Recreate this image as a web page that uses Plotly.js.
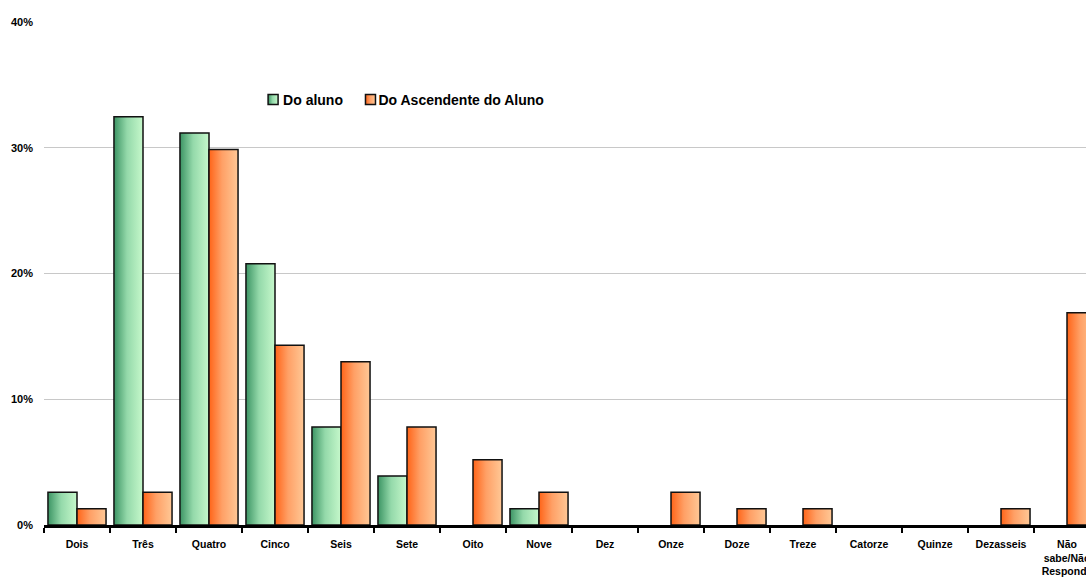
<!DOCTYPE html>
<html>
<head>
<meta charset="utf-8">
<script src="https://cdn.plot.ly/plotly-3.0.1.min.js"></script>
<style>
  html, body { margin: 0; padding: 0; overflow: hidden; background: #fff; }
  #chart { width: 1120px; height: 581px; }
</style>
</head>
<body>
<div id="chart"></div>
<script>
// Number of siblings (percent of respondents)
const categories = ["Dois", "Três", "Quatro", "Cinco", "Seis", "Sete", "Oito", "Nove", "Dez",
  "Onze", "Doze", "Treze", "Catorze", "Quinze", "Dezasseis", "Não<br>sabe/Não<br>Responde"];
const doAluno = [2.60, 32.47, 31.17, 20.78, 7.79, 3.90, 0, 1.30, 0, 0, 0, 0, 0, 0, 0, 0];
const doAscendente = [1.30, 2.60, 29.87, 14.29, 12.99, 7.79, 5.19, 2.60, 0, 2.60, 1.30, 1.30, 0, 0, 1.30, 16.88];
const seriesNames = ["Do aluno", "Do Ascendente do Aluno"];
const yTicks = [0, 10, 20, 30, 40];
const yTickText = ["0%", "10%", "20%", "30%", "40%"];

const FONT = "Liberation Sans, Arial, sans-serif";

// empty categories get no outline
const outline = vals => vals.map(v => (v > 0 ? 1.5 : 0));

const traces = [
  {
    type: "bar", name: seriesNames[0], x: categories, y: doAluno,
    marker: { color: "#8fd6a6", line: { color: "#111", width: outline(doAluno) } },
    hoverinfo: "skip"
  },
  {
    type: "bar", name: seriesNames[1], x: categories, y: doAscendente,
    marker: { color: "#ff9a5a", line: { color: "#111", width: outline(doAscendente) } },
    hoverinfo: "skip"
  }
];

const layout = {
  width: 1120, height: 581,
  margin: { l: 44, r: 20, t: 22, b: 56 },
  paper_bgcolor: "#fff", plot_bgcolor: "#fff",
  barmode: "group", bargap: 0.12, bargroupgap: 0,
  font: { family: FONT, color: "#000" },
  xaxis: {
    type: "category",
    showline: true, linecolor: "#000", linewidth: 2.5,
    ticks: "outside", tickson: "boundaries", ticklen: 5, tickwidth: 2, tickcolor: "#000",
    ticklabelstandoff: 8,
    tickfont: { family: FONT, size: 10.5, weight: "bold" },
    showgrid: false, zeroline: false, fixedrange: true
  },
  yaxis: {
    range: [0, 40], tickvals: yTicks, ticktext: yTickText,
    showgrid: true, gridcolor: "#c8c8c8", gridwidth: 1,
    showline: false, zeroline: false, ticks: "", ticklabelstandoff: 10,
    tickfont: { family: FONT, size: 11, weight: "bold" }, fixedrange: true
  },
  showlegend: true,
  legend: {
    orientation: "h", x: 0.198, xanchor: "left", y: 0.845, yanchor: "middle",
    font: { family: FONT, size: 14, weight: "bold" },
    bgcolor: "rgba(0,0,0,0)", traceorder: "normal"
  }
};

Plotly.newPlot("chart", traces, layout, { staticPlot: true, displayModeBar: false }).then(function (gd) {
  // Horizontal shading for each series' bars and legend swatches
  const svg = gd.querySelector(".main-svg");
  const NS = "http://www.w3.org/2000/svg";
  let defs = svg.querySelector("defs");
  if (!defs) { defs = document.createElementNS(NS, "defs"); svg.insertBefore(defs, svg.firstChild); }
  function addGrad(id, stops) {
    const g = document.createElementNS(NS, "linearGradient");
    g.setAttribute("id", id);
    g.setAttribute("x1", "0"); g.setAttribute("y1", "0");
    g.setAttribute("x2", "1"); g.setAttribute("y2", "0");
    stops.forEach(function (s) {
      const st = document.createElementNS(NS, "stop");
      st.setAttribute("offset", s[0]);
      st.setAttribute("stop-color", s[1]);
      g.appendChild(st);
    });
    defs.appendChild(g);
  }
  addGrad("shadeGreen", [["0", "#3c9464"], ["0.45", "#94d9aa"], ["1", "#c6f8cb"]]);
  addGrad("shadeOrange", [["0", "#ff6418"], ["0.45", "#ffa066"], ["1", "#ffc896"]]);
  const ids = ["shadeGreen", "shadeOrange"];
  gd.querySelectorAll(".barlayer .trace.bars").forEach(function (tr, i) {
    tr.querySelectorAll("path").forEach(function (p) { p.style.fill = "url(#" + ids[i] + ")"; });
  });
  // Compact legend: smaller swatches, text closer to them, entries closer together
  gd.querySelectorAll(".legend .traces").forEach(function (tr, i) {
    tr.querySelectorAll(".legendpoints path").forEach(function (p) {
      p.setAttribute("d", "M5,5H-5V-5H5Z");
      p.style.fill = "url(#" + ids[i] + ")";
      p.style.stroke = "#111"; p.style.strokeWidth = "1.5px";
    });
    const t = tr.querySelector("text.legendtext");
    if (t) t.setAttribute("x", i === 0 ? 30 : 28);
    if (i > 0) {
      const m = /translate\(\s*([-\d.]+)[ ,]+([-\d.]+)\s*\)/.exec(tr.getAttribute("transform") || "");
      if (m) tr.setAttribute("transform", "translate(" + (parseFloat(m[1]) - 7.5 * i) + "," + m[2] + ")");
    }
  });
});
</script>
</body>
</html>
